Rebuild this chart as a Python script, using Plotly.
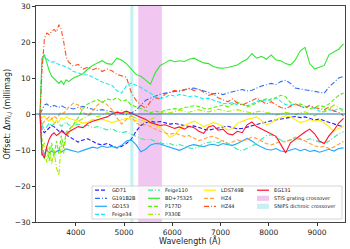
import plotly.graph_objects as go

# ---------------- data ----------------
wavelength = [3260, 3300, 3350, 3400, 3450, 3500, 3550, 3600, 3650, 3700, 3750, 3800, 3850,
              3950, 4050, 4150, 4250, 4350, 4450, 4550, 4650, 4750, 4850,
              4950, 5050, 5150, 5250, 5350, 5450, 5550, 5650, 5750, 5850,
              5950, 6050, 6150, 6250, 6350, 6450, 6550, 6650, 6750, 6850,
              6950, 7050, 7150, 7250, 7350, 7450, 7550, 7650, 7750, 7850,
              7950, 8050, 8150, 8250, 8350, 8450, 8550, 8650, 8750, 8850,
              8950, 9050, 9150, 9250, 9350, 9450, 9550]

gd71 = [0, -4.5, -5.2, -4.5, -3.8, -3.2, -3.5, -4.2, -4.8, -4.5, -5, -5.8, -6.2,
        -6.8, -7.8, -7.2, -6.9, -7.6, -8.3, -8.6, -8.2, -8.8, -9.4,
        -9, -8.2, -7, -4.8, -3.2, -2.4, -2, -2.3, -2.1, -2.5,
        -2.8, -2.6, -2.9, -3.2, -3.5, -3.3, -3.8, -4.2, -4.5, -4.3,
        -3.9, -3.6, -3.4, -3.8, -4.1, -4, -3.6, -3.2, -2.8, -2.6,
        -2.2, -1.9, -1.6, -1.4, -1.2, -0.9, -0.7, -1, -0.8, -1.2,
        -1.7, -1.4, -1.9, -2.2, -2.8, -3.2, -3.5]
g191b2b = [0, 1, 2.5, 2.8, 2.2, 1.9, 2.4, 2.1, 1.8, 2.3, 2, 1.6, 1.8,
           1.4, 1.8, 2.1, 1.7, 1.3, 1, 1.2, 0.8, 0.6, 0.4,
           0.2, -0.2, 0.3, 1, 2.5, 3.8, 4.4, 5, 5.5, 5.8,
           6, 6.3, 6.5, 6.6, 7, 7.2, 6.8, 6.3, 6, 5.6,
           5.8, 5.4, 5.9, 6.2, 6.5, 6.8, 6.4, 6.6, 7.2, 7.8,
           8.1, 8.5, 8.2, 9, 9.4, 8.5, 7.2, 7, 6.8, 6.5,
           6.2, 6, 5.8, 7.5, 8.8, 10, 10.4]
gd153 = [0, -11.5, -11, -10, -10.8, -10.2, -10.9, -10.5, -10, -10.6, -10.2, -9.7, -9.9,
         -10.2, -10.6, -10.1, -9.6, -9.2, -9.5, -8.9, -9.3, -9, -9.4,
         -8.7, -7.5, -7.2, -8.5, -10.5, -9.8, -8.6, -8.2, -8.3, -8.8,
         -9.2, -9.8, -10.1, -9.5, -8.8, -8.5, -8.9, -9.1, -8.6, -8.4,
         -8.8, -8.2, -8.5, -8.7, -8.2, -7.5, -6.8, -7.5, -8.5, -9.2,
         -9.8, -10, -9.6, -10.3, -10.5, -10, -9.6, -10.2, -9.8, -10.4,
         -10.1, -10.6, -10.2, -9.8, -10.3, -9.6, -9.4]
feige34 = [0, 15, 15.8, 15.2, 14.8, 14.4, 14.5, 14, 13.8, 13.6, 13.5, 13.1, 12.8,
           11.8, 11.5, 10.8, 10.9, 10.2, 9.5, 8.9, 8.4, 8, 6.5,
           5.8, 7.8, 8.6, 8, 7.4, 6.5, 5.8, 4.8, 4.3, 4.6,
           5.3, 5, 5.4, 5.2, 4.8, 5.1, 4.6, 4.2, 4.4, 3.8,
           3.4, 3, 2.8, 3.2, 2.5, 2.7, 2.3, 2.8, 3.5, 3.9,
           3.6, 4.2, 4.5, 3.5, 2.6, 2.4, 2.9, 2.1, 1.8, 2.3,
           1.5, 0.8, 0.6, 1.2, 0.9, 1.6, 1.3]
feige110 = [0, -3, -4.5, -3.5, -2.5, -3.2, -2.8, -2, -2.6, -3.4, -2.9, -2.2, -3,
            -3.3, -2.8, -3.5, -3.1, -3.8, -3.5, -4, -4.4, -4.1, -4.8,
            -5.2, -4.9, -5.6, -6.3, -6.8, -7.2, -7, -7.6, -8, -8.4,
            -8.2, -8.8, -8.5, -9, -9.4, -9.6, -9.1, -8.2, -7.8, -7.6,
            -8, -7.4, -8.2, -9, -9.8, -10.2, -9.6, -8.8, -8.2, -7,
            -6, -5.8, -6.5, -7.2, -7.6, -7.2, -6.8, -7.1, -7.4, -6.9,
            -7.3, -7.8, -8.2, -7.5, -6.5, -5.5, -4.9]
bd75325 = [0, 15.5, 16.5, 14, 12, 10.5, 9.8, 9, 8.5, 9.2, 8.2, 9.5, 9,
           10, 10.5, 11.2, 12.5, 13.5, 14.2, 14.8, 14, 13.8, 15.5,
           15, 14, 12.5, 11, 10.5, 9.5, 8.3, 11.5, 13.5, 14.2,
           15, 14.5, 14.8, 14.6, 15.2, 15.5, 14.8, 14.2, 14, 13.2,
           12.8, 12.7, 12.9, 13.2, 13.6, 14.5, 15.2, 16.8, 15.5, 16,
           15.2, 16.4, 15, 14.8, 14, 13.6, 15, 17.5, 18.5, 14,
           12.5, 13, 13.5, 16.5, 17.2, 18, 19.5]
p177d = [0, -7, -12.5, -9, -13, -8, -12, -7.5, -11, -6, -9.5, -5, -4.5,
         -3, -1, 1.5, 2.8, 3.5, 4, 3.2, 4.2, 3.8, 4.5,
         3.6, 3.9, 2.5, 2, 1.5, 1, 0.4, 0.8, 0.5, 1,
         1.2, 1.5, 1.3, 1.8, 2, 2.3, 2.1, 1.6, 1.4, 1.8,
         2.2, 2.5, 2, 2.8, 3.3, 2.6, 2, 2.4, 3.2, 3.8,
         4.2, 3.5, 4.6, 5.2, 4.8, 3.2, 2.5, 2.8, 2.2, 1.5,
         1.8, 2.4, 2, 2.8, 4, 5.2, 5.8]
p330e = [0, -10, -8, -13.5, -9, -14, -10, -15, -17, -8, -11, -6, -5.5,
         -3, -2, -1.2, -0.5, 0, -0.8, -0.3, 0.4, -0.2, 0.6,
         1, 0.4, -0.5, -1.2, -1.8, -2.2, -1.5, -0.8, 0.2, 0.6,
         0.3, 0.8, 1.1, 0.7, 0.5, 0.9, 1.2, 0.8, 0.6, 0.9,
         1.3, 1, 0.7, 1, 1.2, 0.8, 0.5, 0.3, 0.6, 0.9,
         0.4, 0.2, -0.3, 0.1, 0.5, 0.2, -0.2, 0.3, 0.6, 0.1,
         -0.5, 0.2, 0.8, 1.5, 2.5, 1.8, 0.5]
lds749b = [0, -1, -0.5, -1.5, -2, -1.2, -2.5, -1.8, -2.2, -1, -1.6, -0.8, -1.2,
           -1.5, -2, -2.6, -2.2, -1.5, -1.8, -1.4, -2, -2.4, -2,
           -1.6, -1.2, -1.5, -1.8, -2.2, -1.8, -2.6, -3.2, -3.6, -5,
           -6.5, -5.8, -4.2, -3.2, -2.5, -2, -2.6, -3.5, -3, -2.4,
           -2.8, -3.4, -4.5, -4, -2.6, -2, -1.5, -1.2, -0.8, -1.8,
           -3, -2.5, -1.5, -1, -0.5, -0.8, -1.5, -2.4, -2, -1.5,
           -2, -1.7, -2.5, -3.5, -4.8, -4, -3.5]
hz4 = [0, -3, -2, -1.5, -0.8, -1.5, -0.5, -1.2, -0.2, 0.5, 0.2, 1, 1.8,
       3, 2.5, 0.5, -0.5, 0.8, 2.5, 3.5, 2.6, 1.2, -1,
       -2.8, -1.5, -0.5, -2.5, -3.2, -3, -3.5, -4.2, -4.8, -5.2,
       -5.6, -5.3, -5.8, -6.2, -6, -6.8, -7.4, -7, -6.4, -6.2,
       -6.8, -7.6, -8.2, -7.8, -7.2, -7.6, -6.9, -6.4, -6.8, -7.5,
       -8.2, -8.6, -8.1, -7.6, -7.8, -7, -6.4, -6.8, -7.6, -8.2,
       -8.8, -9.2, -9, -9.6, -9.2, -8.4, -7.6]
hz44 = [0, 12, 21, 22.5, 22, 23, 23.5, 22.8, 24.8, 23.5, 20, 16, 14.5,
        13.3, 13.8, 12.5, 13, 12.3, 12.8, 11.8, 12.5, 12, 11,
        10.5, 10.2, 6, 3.8, 2.5, 1.6, 3.5, 4.5, 4.2, 5.5,
        6, 6.6, 6.2, 6.8, 7.2, 6.5, 7, 6, 5.2, 5.6,
        4.5, 4, 3.4, 4.2, 3, 2.5, 3.2, 3.8, 4.4, 3.6,
        2.8, 3.4, 2.5, 1.8, 1.5, 2.2, 2.8, 2.2, 1.6, 2.4,
        1.8, 1.5, 1.2, 2, 0.8, 0.5, -0.5]
eg131 = [0, -11, -12.2, -9, -7, -5.8, -5.2, -6, -5.5, -4.8, -5.2, -5.8, -5,
         -4.2, -3.5, -3.8, -2.6, -2, -1.5, -1.2, -0.8, 0, 0.5,
         0.3, 0.8, 0.2, -0.2, -1, -1.5, -2.4, -2.8, -3.2, -3,
         -3.5, -4, -3.6, -4.2, -3.4, -3.8, -4.8, -5.4, -3.6, -3.2,
         -4.5, -4.2, -5.5, -5.8, -4.8, -5.2, -3, -2.2, -3.5, -4.2,
         -4.8, -5.4, -6.2, -8.5, -10.8, -8, -7, -5.8, -5, -4.2,
         -5.5, -7.5, -8.2, -6, -4.5, -2.5, -1.2]

star_names = ["GD71", "G191B2B", "GD153", "Feige34", "Feige110", "BD+75325",
              "P177D", "P330E", "LDS749B", "HZ4", "HZ44", "EG131"]
star_values = [gd71, g191b2b, gd153, feige34, feige110, bd75325,
               p177d, p330e, lds749b, hz4, hz44, eg131]
star_colors = ["#2a1cf5", "#2f6cf5", "#1fa8ff", "#19e8f0", "#2ef0a0", "#30e830",
               "#5aee10", "#a6ee00", "#ffee00", "#ffa03c", "#ff5020", "#ff1030"]
star_dashes = ["4px,2px", "5px,2px,1px,2px", "solid", "4px,2px",
               "5px,2px,1px,2px", "solid", "4px,2px", "5px,2px,1px,2px",
               "solid", "4px,2px", "5px,2px,1px,2px", "solid"]

stis_crossover = [5295, 5785]
snifs_crossover = [5130, 5195]
stis_label = "STIS grating crossover"
snifs_label = "SNIFS dichroic crossover"
stis_fill = "rgba(190,0,190,0.22)"
snifs_fill = "rgba(0,190,190,0.22)"

x_ticks = [4000, 5000, 6000, 7000, 8000, 9000]
y_ticks = [-30, -20, -10, 0, 10, 20, 30]
x_range = [3176, 9580]
y_range = [-30, 30]
x_title = "Wavelength (Å)"
y_title = "Offset: Δ<i>m</i><sub><i>i,j</i></sub> (millimag)"

# ---------------- figure ----------------
W, H = 350, 249
ML, MR, MT, MB = 36, 5, 6, 27
PW, PH = W - ML - MR, H - MT - MB
FONT = "DejaVu Sans"


def px(x, y):
    return (x - ML) / PW, (H - MB - y) / PH


fig = go.Figure()

for name, vals, col, dash in zip(star_names, star_values, star_colors, star_dashes):
    fig.add_trace(go.Scatter(x=wavelength, y=vals, mode="lines", name=name,
                             line=dict(color=col, width=1.1, dash=dash),
                             showlegend=False))

fig.add_vrect(x0=stis_crossover[0], x1=stis_crossover[1], fillcolor=stis_fill,
              line_width=0, layer="below")
fig.add_vrect(x0=snifs_crossover[0], x1=snifs_crossover[1], fillcolor=snifs_fill,
              line_width=0, layer="below")
fig.add_hline(y=0, line=dict(color="#1f77b4", width=1.2), layer="above")

# ---- manual legend (matplotlib-style compact legend) ----
shapes = []
annotations = []
bx0, by0 = px(92, 186)
bx1, by1 = px(342, 219)
shapes.append(dict(type="rect", xref="paper", yref="paper", x0=bx0, y0=by1, x1=bx1, y1=by0,
                   fillcolor="rgba(255,255,255,0.85)", line=dict(color="#cccccc", width=0.8),
                   layer="above"))
col_x = [95, 148, 204, 257]
row_y = [190.2, 198.3, 206.3, 214.3]
col_sizes = [4, 4, 3, 3]
entries = [("line", n, c, d) for n, c, d in zip(star_names, star_colors, star_dashes)]
entries += [("patch", stis_label, stis_fill, None), ("patch", snifs_label, snifs_fill, None)]
k = 0
for ci, size in enumerate(col_sizes):
    for ri in range(size):
        kind, label, colr, dash = entries[k]
        k += 1
        x0p, yp = px(col_x[ci], row_y[ri])
        x1p, _ = px(col_x[ci] + 12, row_y[ri])
        if kind == "line":
            shapes.append(dict(type="line", xref="paper", yref="paper", x0=x0p, x1=x1p,
                               y0=yp, y1=yp, line=dict(color=colr, width=1.2, dash=dash),
                               layer="above"))
        else:
            _, ya = px(0, row_y[ri] - 2.6)
            _, yb = px(0, row_y[ri] + 2.6)
            shapes.append(dict(type="rect", xref="paper", yref="paper", x0=x0p, x1=x1p,
                               y0=yb, y1=ya, fillcolor=colr, line=dict(width=0),
                               layer="above"))
        tx, _ = px(col_x[ci] + 15, row_y[ri])
        annotations.append(dict(x=tx, y=yp, xref="paper", yref="paper", text=label,
                                showarrow=False, xanchor="left", yanchor="middle",
                                font=dict(family=FONT, size=5, color="#222")))

# axis titles as annotations (exact placement)
xtx, xty = px(190, 240.5)
annotations.append(dict(x=xtx, y=xty, xref="paper", yref="paper", text=x_title,
                        showarrow=False, xanchor="center", yanchor="middle",
                        font=dict(family=FONT, size=8, color="#222")))
ytx, yty = px(7.5, 114)
annotations.append(dict(x=ytx, y=yty, xref="paper", yref="paper", text=y_title,
                        showarrow=False, xanchor="center", yanchor="middle", textangle=-90,
                        font=dict(family=FONT, size=8, color="#222")))

fig.update_layout(
    width=W, height=H,
    margin=dict(l=ML, r=MR, t=MT, b=MB, pad=0),
    paper_bgcolor="white", plot_bgcolor="white",
    font=dict(family=FONT, size=8, color="#222"),
    shapes=list(fig.layout.shapes) + shapes,
    annotations=annotations,
    showlegend=False,
)
fig.update_xaxes(range=x_range, tickvals=x_ticks, ticks="outside", ticklen=3, tickwidth=0.8,
                 tickcolor="#333", showgrid=False, zeroline=False, showline=True,
                 linecolor="#444", linewidth=1, mirror=True, automargin=False,
                 tickfont=dict(size=7.5))
fig.update_yaxes(range=y_range, tickvals=y_ticks, ticks="outside", ticklen=3, tickwidth=0.8,
                 tickcolor="#333", showgrid=False, zeroline=False, showline=True,
                 linecolor="#444", linewidth=1, mirror=True, automargin=False,
                 tickfont=dict(size=7.5))

fig.write_html("out.html",
               config={"displayModeBar": False},
               post_script="document.body.style.margin='0px';"
                           "document.body.style.overflow='hidden';")
